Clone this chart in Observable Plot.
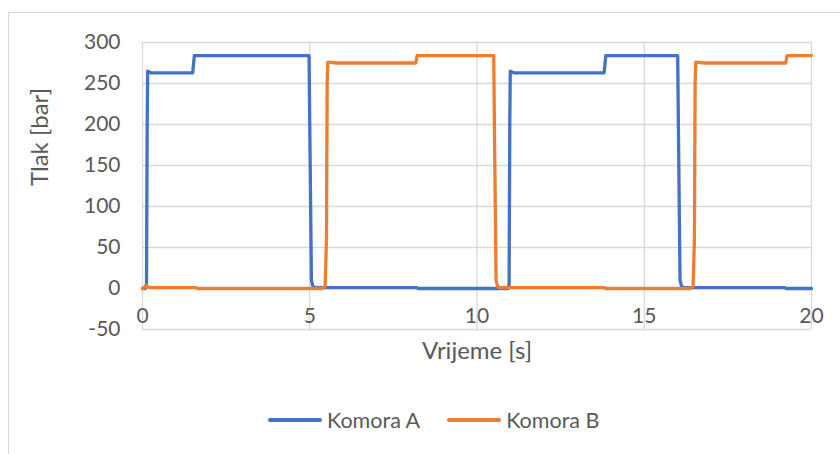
<!DOCTYPE html>
<html>
<head>
<meta charset="utf-8">
<script src="https://cdn.jsdelivr.net/npm/d3@7"></script>
<script src="https://cdn.jsdelivr.net/npm/@observablehq/plot@0.6"></script>
<style>
  html, body { margin: 0; padding: 0; background: #fff; }
  #wrap { position: relative; width: 840px; height: 454px; overflow: hidden; font-family: Lato, "Open Sans", sans-serif; }
  #frame { position: absolute; left: 8px; top: 12px; width: 900px; height: 500px; border-left: 1px solid #d9d9d9; border-top: 1px solid #d9d9d9; }
  #chart { position: absolute; left: 0; top: 0; }
  #legend { position: absolute; top: 407px; left: 268px; display: flex; align-items: center; font-size: 21.5px; color: #595959; }
  .item { display: flex; align-items: center; margin-right: 27px; }
  .sw { width: 54px; height: 3.5px; border-radius: 2px; margin-right: 5px; }
</style>
</head>
<body>
<div id="wrap">
  <div id="frame"></div>
  <div id="chart"></div>
  <div id="legend"></div>
</div>
<script>
const seriesNames = ["Komora A", "Komora B"];
const seriesColors = ["#4472C4", "#ED7D31"];

const timeA = [0, 0.08, 0.12, 0.14, 0.155, 0.25, 1.5, 1.55, 4.98, 5.0, 5.05, 5.1, 5.2, 8.2, 8.25, 10.92, 10.96, 10.98, 10.995, 11.1, 13.8, 13.85, 16.0, 16.02, 16.07, 16.12, 16.2, 19.2, 19.25, 20];
const valueA = [0, 0, 5, 200, 265, 263, 263, 284, 284, 200, 10, 2, 1, 1, 0, 0, 5, 200, 265, 263, 263, 284, 284, 200, 10, 2, 1, 1, 0, 0];

const timeB = [0, 0.05, 0.1, 0.15, 0.25, 1.6, 1.65, 5.38, 5.46, 5.5, 5.52, 5.54, 5.8, 8.17, 8.21, 10.5, 10.52, 10.57, 10.62, 10.7, 13.8, 13.85, 16.38, 16.46, 16.5, 16.52, 16.54, 16.8, 19.23, 19.27, 20];
const valueB = [0, 1, 4, 2, 1, 1, 0, 0, 3, 60, 250, 276, 275, 275, 284, 284, 200, 10, 2, 1, 1, 0, 0, 3, 60, 250, 276, 275, 275, 284, 284];

const xTicks = [0, 5, 10, 15, 20];
const yTicks = [-50, 0, 50, 100, 150, 200, 250, 300];
const xTitle = "Vrijeme [s]";
const yTitle = "Tlak [bar]";

const dataA = timeA.map((t, i) => ({t, v: valueA[i]}));
const dataB = timeB.map((t, i) => ({t, v: valueB[i]}));

const chart = Plot.plot({
  width: 840,
  height: 380,
  marginLeft: 142,
  marginRight: 29,
  marginTop: 42,
  marginBottom: 51,
  style: { fontFamily: "Lato, 'Open Sans', sans-serif", fontSize: "21px", color: "#595959", background: "transparent" },
  x: { domain: [0, 20], axis: null },
  y: { domain: [-50, 300], axis: null },
  marks: [
    Plot.gridY(yTicks, { stroke: "#d9d9d9", strokeOpacity: 1, strokeWidth: 1.3 }),
    Plot.gridX(xTicks, { stroke: "#d9d9d9", strokeOpacity: 1, strokeWidth: 1.3 }),
    Plot.text(yTicks, { y: d => d, frameAnchor: "left", dx: -22, textAnchor: "end", text: d => String(d), fontSize: 21, fill: "#595959" }),
    Plot.text(xTicks, { x: d => d, frameAnchor: "bottom", dy: -13, lineAnchor: "middle", text: d => String(d), fontSize: 21, fill: "#595959" }),
    Plot.text([yTitle], { frameAnchor: "left", dx: -102, rotate: -90, text: d => d, fontSize: 24, fill: "#595959" }),
    Plot.text([xTitle], { frameAnchor: "bottom", dy: 22, lineAnchor: "middle", text: d => d, fontSize: 24, fill: "#595959" }),
    Plot.line(dataA, { x: "t", y: "v", stroke: seriesColors[0], strokeWidth: 3.3, strokeLinejoin: "round", strokeLinecap: "round" }),
    Plot.line(dataB, { x: "t", y: "v", stroke: seriesColors[1], strokeWidth: 3.3, strokeLinejoin: "round", strokeLinecap: "round" })
  ]
});
document.getElementById("chart").appendChild(chart);

const legend = document.getElementById("legend");
seriesNames.forEach((name, i) => {
  const item = document.createElement("div");
  item.className = "item";
  const sw = document.createElement("span");
  sw.className = "sw";
  sw.style.background = seriesColors[i];
  const label = document.createElement("span");
  label.textContent = name;
  item.appendChild(sw);
  item.appendChild(label);
  legend.appendChild(item);
});
</script>
</body>
</html>
